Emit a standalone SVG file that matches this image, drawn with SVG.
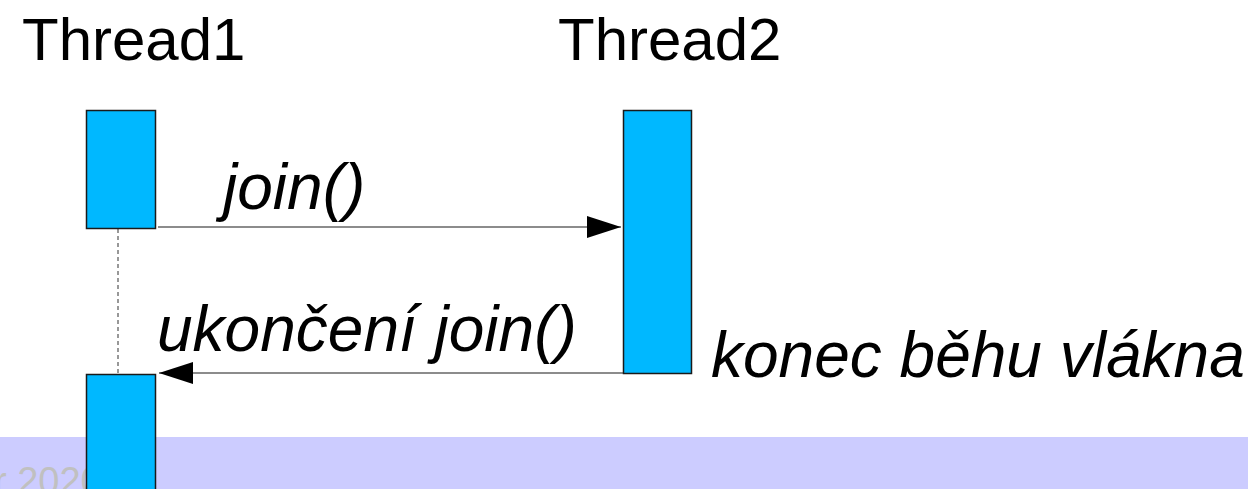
<svg xmlns="http://www.w3.org/2000/svg" width="1248" height="489" viewBox="0 0 1248 489">
<defs>
<style>
.t{font-family:"Liberation Sans",Arial,sans-serif;font-size:64px;fill:#000}
.h{font-size:60px}
.i{font-style:italic}
.box{fill:#00b8ff;stroke:#1a1a1a;stroke-width:1.5}
.msg{stroke:#666;stroke-width:1.5;fill:none}
</style>
<marker id="ah" viewBox="0 0 34 22" refX="34" refY="11" markerWidth="34" markerHeight="22" markerUnits="userSpaceOnUse" orient="auto">
<path d="M0,0 L34,11 L0,22 Z" fill="#000"/>
</marker>
</defs>
<rect x="0" y="0" width="1248" height="489" fill="#fff"/>
<rect x="0" y="437" width="1248" height="52" fill="#ccccff"/>
<text x="-6" y="494" font-family="Liberation Sans,Arial,sans-serif" font-size="38" fill="#c0c0c0">r 2020</text>
<g id="thread1-label"><text class="t h" x="22" y="60">Thread1</text></g>
<g id="thread2-label"><text class="t h" x="558" y="60">Thread2</text></g>
<g id="connectors">
<line x1="118" y1="229" x2="118" y2="374" stroke="#777" stroke-width="1.5" stroke-dasharray="4,3"/>
<line class="msg" x1="158" y1="227" x2="621" y2="227" marker-end="url(#ah)"/>
<line class="msg" x1="623" y1="373" x2="159" y2="373" marker-end="url(#ah)"/>
</g>
<g id="thread1-act1"><rect class="box" x="86.5" y="110.5" width="69" height="118"/></g>
<g id="thread2-act"><rect class="box" x="623.5" y="110.5" width="68" height="263"/></g>
<g id="thread1-act2"><rect class="box" x="86.5" y="374.5" width="69" height="120"/></g>
<g id="label-join"><text class="t i" x="223" y="209">join()</text></g>
<g id="label-ukonceni"><text class="t i" x="157" y="351">ukončení join()</text></g>
<g id="label-konec"><text class="t i" x="711" y="377">konec běhu vlákna</text></g>
</svg>
